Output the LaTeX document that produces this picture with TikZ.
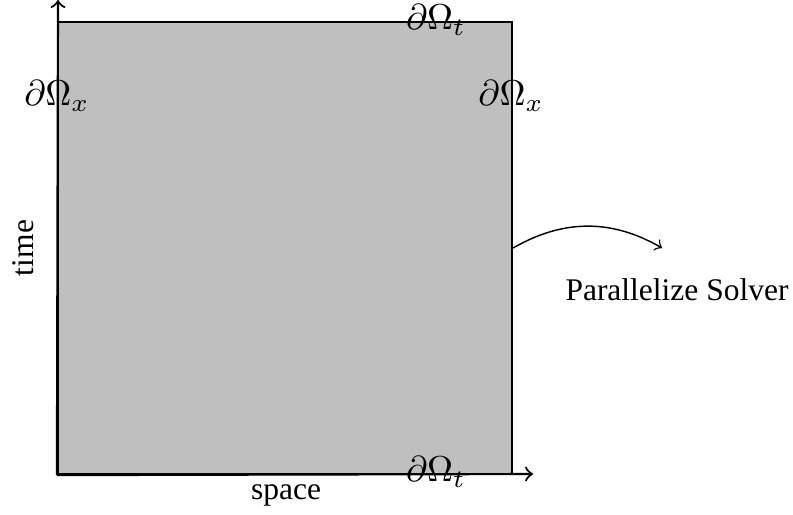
\documentclass[tikz,border=0pt]{standalone}
\usepackage{fontspec}
\setmainfont{Liberation Serif}
\usetikzlibrary{positioning,calc}

\begin{document}
\begin{tikzpicture}[
        x=0.2778pt, y=-0.2778pt,
        stbox/.style={
          draw,
          semithick,
          fill=gray!50,
          minimum width=454*0.2778pt,
          minimum height=452*0.2778pt,
          inner sep=0pt
        },
        axis/.style={semithick,->},
        lbl/.style={inner sep=0pt},
        word/.style={inner sep=0pt,font=\fontsize{8.75}{10}\selectfont}
      ]
      \useasboundingbox (0,0) rectangle (793,514);

      % space-time domain
      \node[stbox] (omega) at (285,248) {};
      \coordinate (origin) at (omega.south west);

      % axes: space to the right, time upwards
      \coordinate (xend) at (533,474);
      \coordinate (tend) at (58,0);
      \draw[axis] (origin) -- (xend);
      \draw[axis] (origin) -- (tend);
      \node[word] (space) at (286,495) {space};
      \node[word,rotate=90] (time) at (23,248) {time};

      % boundaries
      \node[lbl] (dtop) at (436,20) {$\partial\Omega_t$};
      \node[lbl] (dbot) at (436,472) {$\partial\Omega_t$};
      \node[lbl] (dleft) at (57,96) {$\partial\Omega_x$};
      \node[lbl] (dright) at (511,96) {$\partial\Omega_x$};

      % solver
      \node[word] (solver) at (677,290) {Parallelize Solver};
      \coordinate (tip) at (662,248);
      \draw[->] (omega.east) to[bend left=30] (tip);
\end{tikzpicture}
\end{document}
